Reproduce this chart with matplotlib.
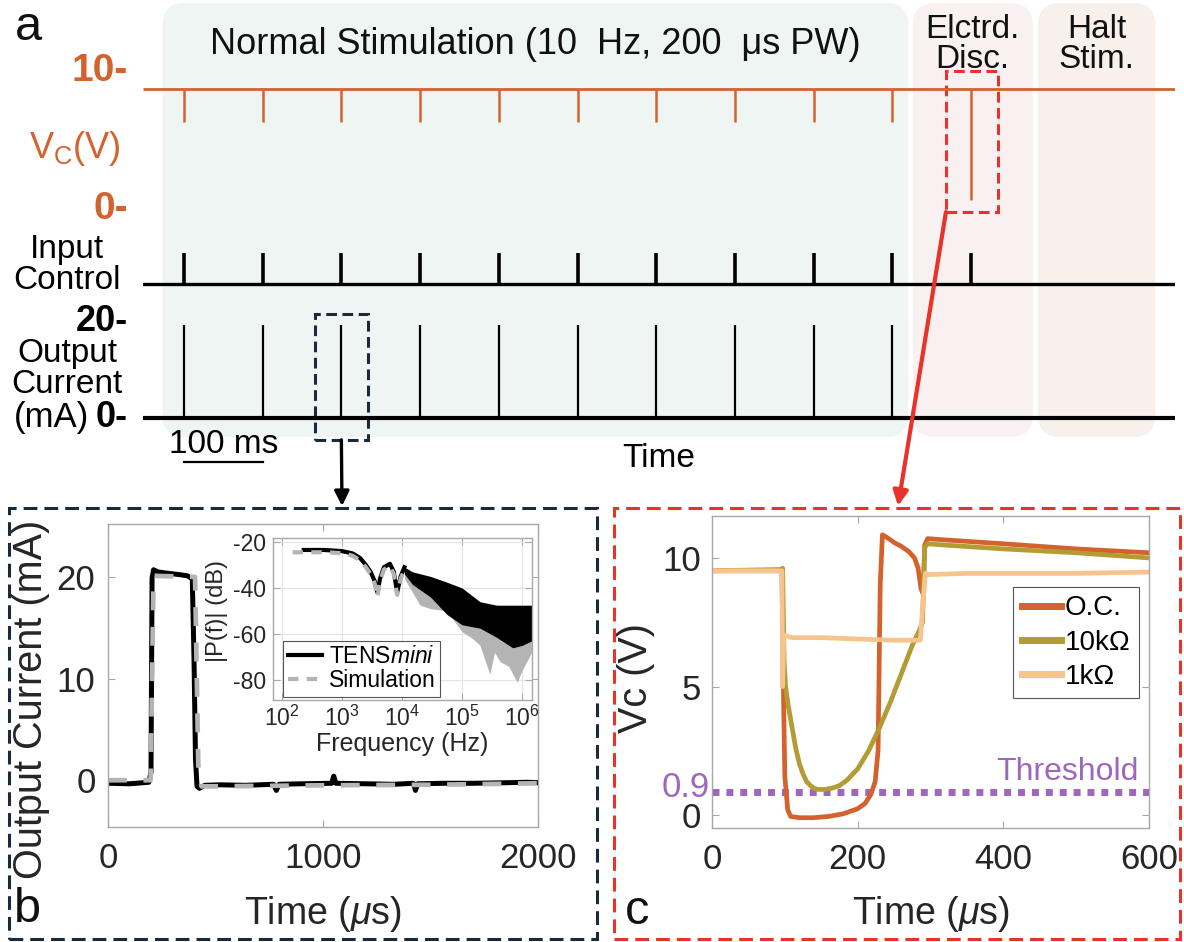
import numpy as np
import matplotlib
matplotlib.use("Agg")
import matplotlib.pyplot as plt
from matplotlib.patches import FancyBboxPatch, Rectangle, ConnectionPatch
from matplotlib.lines import Line2D
import matplotlib.transforms as mtransforms

plt.rcParams['font.family'] = ['Liberation Sans', 'DejaVu Sans']
plt.rcParams['mathtext.fontset'] = 'custom'
plt.rcParams['mathtext.rm'] = 'Liberation Sans'
plt.rcParams['mathtext.it'] = 'Liberation Sans:italic'
plt.rcParams['mathtext.bf'] = 'Liberation Sans:bold'
plt.rcParams['axes.unicode_minus'] = False

# ---------------- panel a: stimulation timeline (ms) ----------------
time_span_ms = (0, 1311)
stim_times_ms = [52, 152, 252, 352, 452, 552, 652, 752, 852, 952]
disc_time_ms = 1052
phase_spans_ms = [(25, 972), (978, 1130), (1137, 1286)]
phase_labels = ["Normal Stimulation (10  Hz, 200  μs PW)", "Elctrd.\nDisc.", "Halt\nStim."]
phase_font = [26, 24, 24]
phase_colors = ["#eef5f2", "#f9f1f1", "#f8f0ea"]
vc_rest_v = 8.8
vc_stim_min_v = 6.4
vc_disc_min_v = 0.7
out_pulse_ma = 20
zoom_stim_index = 2
scale_bar_ms = 100

# ---------------- panel b: single pulse + spectrum ----------------
meas_t_us = [0, 100, 190, 200, 205, 212, 230, 260, 300, 340, 370, 392, 400, 407, 414, 425,
             450, 520, 640, 770, 783, 796, 900, 1040, 1050, 1060, 1200, 1330, 1420, 1430,
             1440, 1560, 1700, 1840, 1950, 2000]
meas_ma = [-0.3, -0.35, -0.2, 0.8, 19.9, 20.7, 20.5, 20.4, 20.3, 20.2, 20.1, 19.8, 12.0, 2.0,
           -0.6, -0.8, -0.5, -0.45, -0.5, -0.4, -1.0, -0.4, -0.35, -0.3, 0.4, -0.3, -0.35,
           -0.4, -0.3, -1.0, -0.35, -0.3, -0.3, -0.25, -0.2, -0.25]
sim_t_us = [0, 198, 212, 405, 420, 435, 500, 1000, 1500, 2000]
sim_ma = [0.0, 0.0, 20.1, 20.0, 1.5, -0.6, -0.6, -0.5, -0.45, -0.3]

meas_f_hz = [230, 500, 1000, 1500, 2000, 2500, 3000, 3500, 3900, 4300, 5000, 6300, 7300,
             8300, 9500, 11000]
meas_db = [-23.5, -23.5, -24, -25, -27, -30, -33, -37, -42, -36, -31, -29.5, -33, -42, -35, -31]
meas_band_f = [11000, 15000, 30000, 56000, 1e5, 2e5, 3.8e5, 7e5, 1e6, 1.45e6]
meas_band_hi = [-31, -33, -35, -37.5, -40, -46, -47.5, -47.5, -47.5, -47.5]
meas_band_lo = [-34, -38.5, -44, -51.5, -56, -57.5, -61.5, -66, -65, -63]

sim_f_hz = [150, 300, 600, 1000, 1500, 2000, 2500, 3000, 3500, 3900, 4300, 5000, 6300, 7300,
            8300, 9500, 11000]
sim_db = [-24.5, -24.5, -24.5, -25, -26, -28, -31, -34, -38, -44, -37, -32, -30.5, -34, -43,
          -36, -32]
sim_band_f = [11000, 15000, 20000, 30000, 56000, 1e5, 1.5e5, 2e5, 2.9e5, 3.5e5, 4.3e5, 6e5,
              8.3e5, 1e6, 1.2e6, 1.45e6]
sim_band_hi = [-32, -35, -38, -40, -44, -47, -49, -50, -52, -54, -55, -57, -58, -59, -60, -60]
sim_band_lo = [-36, -42, -47.5, -49, -50, -59, -62, -65, -77.5, -68, -72, -74, -81, -76, -72, -68]

# ---------------- panel c: capacitor voltage during discharge ----------------
oc_t = [0, 96, 98, 100, 104, 108, 120, 140, 160, 180, 200, 210, 218, 224, 228, 231, 234, 240,
        250, 260, 270, 278, 283, 287, 290, 292, 296, 320, 400, 500, 600]
oc_v = [9.5, 9.5, 5.0, 1.5, 0.2, -0.05, -0.1, -0.1, -0.05, 0.05, 0.25, 0.45, 0.8, 1.3, 2.5,
        9.0, 10.9, 10.8, 10.6, 10.45, 10.25, 10.0, 9.6, 8.8, 8.6, 10.5, 10.75, 10.7, 10.55,
        10.35, 10.2]
k10_t = [0, 94, 97, 99, 101, 105, 110, 115, 120, 125, 130, 135, 140, 145, 155, 165, 175, 185,
         200, 215, 230, 245, 260, 275, 285, 289, 292, 296, 320, 400, 500, 600]
k10_v = [9.5, 9.55, 9.6, 6.0, 5.0, 4.2, 3.4, 2.6, 2.0, 1.6, 1.3, 1.15, 1.05, 1.0, 1.0, 1.05,
         1.15, 1.35, 1.8, 2.5, 3.4, 4.4, 5.5, 6.6, 7.2, 7.5, 10.4, 10.55, 10.5, 10.35, 10.2, 10.0]
k1_t = [0, 96, 97, 98.5, 110, 150, 200, 250, 286, 289, 293, 296, 350, 400, 450, 500, 600]
k1_v = [9.5, 9.5, 5.0, 7.0, 6.9, 6.9, 6.85, 6.8, 6.8, 8.0, 9.4, 9.35, 9.4, 9.4, 9.4, 9.4, 9.45]
threshold_v = 0.9
load_labels = ["O.C.", "10kΩ", "1kΩ"]

# ---------------- styling ----------------
ORANGE = "#d4622d"
OLIVE = "#b39c34"
PEACH = "#f6c48c"
PURPLE = "#9f66bd"
RED = "#e8322a"
NAVY = "#1b2a3a"
GRAY_SIM = "#b4b4b4"
TXT = "#262626"
FRAME = "#a8a8a8"

W, H = 1184, 942
fig = plt.figure(figsize=(W / 100, H / 100), dpi=100)


def px_axes(left, top, right, bottom, **kw):
    return fig.add_axes([left / W, 1 - bottom / H, (right - left) / W, (bottom - top) / H], **kw)


def ylim_from(top_px, bottom_px, v1, p1, v2, p2):
    s = (p1 - p2) / (v2 - v1)
    return (v1 - (bottom_px - p1) / s, v1 + (p1 - top_px) / s)


def bare(ax):
    ax.set_facecolor("none")
    for sp in ax.spines.values():
        sp.set_visible(False)
    ax.set_xticks([])
    ax.tick_params(axis="y", length=0)


def lift_ticklabels(ax, dy_pt):
    shift = mtransforms.ScaledTranslation(0, dy_pt / 72, fig.dpi_scale_trans)
    for lab in ax.get_yticklabels():
        lab.set_transform(lab.get_transform() + shift)


# ---- phase backgrounds ----
A_L, A_R = 143, 1175
ax_bg = px_axes(A_L, 3, A_R, 437)
ax_bg.set_xlim(time_span_ms)
ax_bg.set_ylim(0, 1)
ax_bg.axis("off")
px_per_ms = (A_R - A_L) / (time_span_ms[1] - time_span_ms[0])
r_ms = 28
aspect = (r_ms * px_per_ms / 434.0) / r_ms
for (t0, t1), c, lab, fs in zip(phase_spans_ms, phase_colors, phase_labels, phase_font):
    ax_bg.add_patch(FancyBboxPatch((t0, 0), t1 - t0, 1,
                                   boxstyle=f"round,pad=0,rounding_size={r_ms}",
                                   mutation_aspect=aspect, fc=c, ec="none"))
    ax_bg.text((t0 + t1) / 2, 0.905, lab, ha="center", va="center", fontsize=fs,
               linespacing=0.95, color="#111111")

# ---- Vc trace ----
ax_vc = px_axes(A_L, 60, A_R, 225)
bare(ax_vc)
ax_vc.set_xlim(time_span_ms)
ax_vc.set_ylim(*ylim_from(60, 225, 0, 210, 10, 72))
ax_vc.plot(time_span_ms, [vc_rest_v, vc_rest_v], color=ORANGE, lw=2.0, solid_capstyle="butt")
ax_vc.vlines(stim_times_ms, vc_stim_min_v, vc_rest_v, color=ORANGE, lw=1.8)
ax_vc.vlines([disc_time_ms], vc_disc_min_v, vc_rest_v, color=ORANGE, lw=1.8)
ax_vc.set_yticks([0, 10])
ax_vc.set_yticklabels(["0-", "10-"], fontsize=28, fontweight="bold", color=ORANGE)
ax_vc.tick_params(axis="y", pad=11)
lift_ticklabels(ax_vc, 3.5)
fig.text(75 / W, 1 - 148 / H, r"V$_\mathregular{C}$(V)", ha="center", va="center",
         fontsize=26, color=ORANGE)

# ---- input control ----
ax_in = px_axes(A_L, 240, A_R, 295)
bare(ax_in)
ax_in.set_yticks([])
ax_in.set_xlim(time_span_ms)
ax_in.set_ylim(*ylim_from(240, 295, 0, 284, 1, 253))
ax_in.plot(time_span_ms, [0, 0], color="k", lw=2.4, solid_capstyle="round")
ax_in.vlines(stim_times_ms + [disc_time_ms], 0, 1, color="k", lw=2.6)
fig.text(67 / W, 1 - 265 / H, "Input\nControl", ha="center", va="center", fontsize=24,
         linespacing=0.98)

# ---- output current ----
ax_out = px_axes(A_L, 305, A_R, 440)
bare(ax_out)
ax_out.set_xlim(time_span_ms)
ax_out.set_ylim(*ylim_from(305, 440, 0, 418, 20, 325))
ax_out.plot(time_span_ms, [0, 0], color="k", lw=3.0, solid_capstyle="butt")
ax_out.vlines(stim_times_ms, 0, out_pulse_ma, color="k", lw=1.6)
ax_out.set_yticks([0, 20])
ax_out.set_yticklabels(["0-", "20-"], fontsize=26, fontweight="bold", color="k")
ax_out.tick_params(axis="y", pad=11)
lift_ticklabels(ax_out, 3.0)
ax_out.get_yticklabels()[1].set_transform(
    ax_out.get_yticklabels()[1].get_transform()
    + mtransforms.ScaledTranslation(0, 2.5 / 72, fig.dpi_scale_trans))
fig.text(67 / W, 1 - 369 / H, "Output\nCurrent", ha="center", va="center", fontsize=24,
         linespacing=0.97)
fig.text(89 / W, 1 - 418 / H, "(mA)", ha="right", va="center", fontsize=25)

# scale bar and time label
xa = ax_out.get_xaxis_transform()
t_sb = stim_times_ms[0]
ax_out.plot([t_sb, t_sb + scale_bar_ms], [-0.163, -0.163], transform=xa, color="k", lw=1.6,
            clip_on=False)
ax_out.text(t_sb + scale_bar_ms / 2, -0.035, "100 ms", transform=xa, ha="center", va="center",
            fontsize=24, clip_on=False)
ax_out.text(0.5, -0.14, "Time", transform=ax_out.transAxes, ha="center", va="center",
            fontsize=24)

# zoom boxes
t_z = stim_times_ms[zoom_stim_index]
ax_out.add_patch(Rectangle((t_z - 33.5, -4.7), 67.5, 27.1, fill=False, ec=NAVY, lw=2.2,
                           linestyle=(0, (3.5, 1.8)), clip_on=False))
ax_vc.add_patch(Rectangle((disc_time_ms - 32, -0.15), 66, 10.25, fill=False, ec=RED, lw=2.2,
                          linestyle=(0, (3.5, 1.8)), clip_on=False))

# ---------------- panel borders ----------------
fig.add_artist(Rectangle((9 / W, 1 - 939 / H), (597 - 9) / W, (939 - 508) / H,
                         transform=fig.transFigure, fill=False, ec=NAVY, lw=2.2,
                         linestyle=(0, (4.5, 2.3))))
fig.add_artist(Rectangle((614 / W, 1 - 939 / H), (1180 - 614) / W, (939 - 508) / H,
                         transform=fig.transFigure, fill=False, ec=RED, lw=2.2,
                         linestyle=(0, (4.5, 2.3))))

fig.add_artist(ConnectionPatch(xyA=(t_z, -4.7), coordsA=ax_out.transData,
                               xyB=(342 / W, 1 - 506 / H), coordsB=fig.transFigure,
                               arrowstyle="-|>", mutation_scale=22, lw=2.4, color="k"))
fig.add_artist(ConnectionPatch(xyA=(disc_time_ms - 32, -0.15), coordsA=ax_vc.transData,
                               xyB=(898 / W, 1 - 506 / H), coordsB=fig.transFigure,
                               arrowstyle="-|>", mutation_scale=22, lw=3.0, color=RED))


def matlab_style(ax, size):
    for sp in ax.spines.values():
        sp.set_color(FRAME)
        sp.set_linewidth(1.0)
    ax.tick_params(direction="in", length=5, width=0.8, color=FRAME, top=True, right=True,
                   labelsize=size, labelcolor=TXT)


# ---------------- panel b ----------------
axb = px_axes(108, 524, 538, 827)
axb.plot(meas_t_us, meas_ma, color="k", lw=3.6, solid_joinstyle="round")
axb.plot(sim_t_us, sim_ma, color=GRAY_SIM, lw=3.4, dashes=(4, 3.5))
axb.set_xlim(0, 2000)
axb.set_ylim(-4.6, 25.2)
axb.set_xticks([0, 1000, 2000])
axb.set_yticks([0, 10, 20])
matlab_style(axb, 25)
axb.tick_params(axis="y", pad=9)
axb.tick_params(axis="x", pad=11)
axb.set_ylabel("Output Current (mA)", fontsize=28.5, color=TXT)
axb.yaxis.set_label_coords(-0.135, 0.42)
axb.set_xlabel(r"Time ($\mu$s)", fontsize=27, color=TXT, va="top")
axb.xaxis.set_label_coords(0.5, -0.22)

axi = px_axes(273, 538, 532, 700)
axi.set_xscale("log")
axi.fill_between(sim_band_f, sim_band_lo, sim_band_hi, color=GRAY_SIM, lw=0)
axi.fill_between(meas_band_f, meas_band_lo, meas_band_hi, color="k", lw=0)
axi.plot(meas_f_hz, meas_db, color="k", lw=3.0)
axi.plot(sim_f_hz, sim_db, color=GRAY_SIM, lw=3.0, dashes=(2.5, 2))
axi.set_xlim(10 ** 1.85, 10 ** 6.167)
axi.set_ylim(-88.7, -18.3)
axi.set_xticks([1e2, 1e3, 1e4, 1e5, 1e6])
axi.xaxis.set_minor_locator(matplotlib.ticker.NullLocator())
axi.set_yticks([-20, -40, -60, -80])
axi.grid(True, color="#e4e4e4", lw=0.8)
axi.set_axisbelow(True)
matlab_style(axi, 16.5)
axi.tick_params(axis="y", pad=5)
axi.tick_params(axis="x", pad=4)
axi.set_xlabel("Frequency (Hz)", fontsize=18, color=TXT, labelpad=1)
axi.set_ylabel("|P(f)| (dB)", fontsize=17, color=TXT)
axi.yaxis.set_label_coords(-0.175, 0.55)
leg_b = axi.legend([Line2D([], [], color="k", lw=3),
                    Line2D([], [], color=GRAY_SIM, lw=3, dashes=(2.5, 2))],
                   [r"TENS$\mathit{mini}$", "Simulation"], loc="lower left",
                   bbox_to_anchor=(0.039, 0.019), borderaxespad=0, fontsize=16.5,
                   handlelength=1.5, handletextpad=0.3, labelspacing=0.05, borderpad=0.2,
                   fancybox=False, framealpha=1)
leg_b.get_frame().set_edgecolor("#555555")
leg_b.get_frame().set_linewidth(0.8)

# ---------------- panel c ----------------
axc = px_axes(712, 516, 1149, 828)
axc.axhline(threshold_v, color=PURPLE, lw=5, linestyle=(0, (1, 1)), dash_capstyle="butt")
l_oc, = axc.plot(oc_t, oc_v, color=ORANGE, lw=3.4)
l_10, = axc.plot(k10_t, k10_v, color=OLIVE, lw=3.4)
l_1, = axc.plot(k1_t, k1_v, color=PEACH, lw=3.4)
axc.set_xlim(0, 600)
axc.set_ylim(-0.5, 11.63)
axc.set_xticks([0, 200, 400, 600])
axc.set_yticks([0, 5, 10])
matlab_style(axc, 25)
axc.tick_params(axis="y", pad=8)
axc.tick_params(axis="x", pad=11)
axc.set_ylabel("Vc (V)", fontsize=28.5, color=TXT)
axc.yaxis.set_label_coords(-0.13, 0.48)
axc.set_xlabel(r"Time ($\mu$s)", fontsize=27, color=TXT, va="top")
axc.xaxis.set_label_coords(0.5, -0.212)
bt = mtransforms.blended_transform_factory(axc.transAxes, axc.transData)
axc.annotate(f"{threshold_v:g}", xy=(0, threshold_v), xycoords=bt, xytext=(-2, -5),
             textcoords="offset pixels", ha="right", va="baseline", fontsize=25, color=PURPLE,
             annotation_clip=False)
axc.annotate("Threshold", xy=(1, threshold_v), xycoords=bt, xytext=(-10, 5),
             textcoords="offset pixels", ha="right", va="bottom", fontsize=23, color=PURPLE)
leg_c = axc.legend([Line2D([], [], color=c, lw=5) for c in (ORANGE, OLIVE, PEACH)], load_labels,
                   loc="upper right", bbox_to_anchor=(0.977, 0.772), borderaxespad=0,
                   fontsize=20, handlelength=1.4, handletextpad=0.15, labelspacing=0.3,
                   borderpad=0.3, fancybox=False, framealpha=1)
leg_c.get_frame().set_edgecolor("#555555")
leg_c.get_frame().set_linewidth(0.8)

# panel letters
fig.text(28 / W, 1 - 28 / H, "a", ha="center", va="center", fontsize=35, color="#111111")
fig.text(27 / W, 1 - 910 / H, "b", ha="center", va="center", fontsize=35, color="#111111")
fig.text(637 / W, 1 - 912 / H, "c", ha="center", va="center", fontsize=35, color="#111111")

fig.savefig("out.png", dpi=100)
